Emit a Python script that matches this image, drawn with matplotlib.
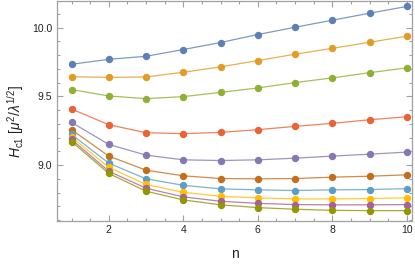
import matplotlib
matplotlib.use("Agg")
import matplotlib.pyplot as plt
from matplotlib.ticker import MultipleLocator

plt.rcParams["font.family"] = ["Liberation Sans", "DejaVu Sans"]
plt.rcParams["mathtext.fontset"] = "custom"
plt.rcParams["mathtext.rm"] = "Liberation Sans"
plt.rcParams["mathtext.it"] = "Liberation Sans:italic"
plt.rcParams["mathtext.bf"] = "Liberation Sans:bold"

n = [1, 2, 3, 4, 5, 6, 7, 8, 9, 10]
series = [
    [9.733, 9.769, 9.791, 9.840, 9.891, 9.949, 10.002, 10.053, 10.104, 10.153],
    [9.643, 9.638, 9.641, 9.675, 9.714, 9.760, 9.806, 9.849, 9.893, 9.937],
    [9.549, 9.503, 9.483, 9.498, 9.529, 9.561, 9.600, 9.634, 9.672, 9.707],
    [9.408, 9.294, 9.236, 9.229, 9.238, 9.258, 9.282, 9.304, 9.330, 9.352],
    [9.311, 9.151, 9.073, 9.039, 9.034, 9.039, 9.051, 9.066, 9.080, 9.095],
    [9.258, 9.066, 8.964, 8.923, 8.903, 8.901, 8.903, 8.913, 8.920, 8.930],
    [9.223, 9.015, 8.901, 8.854, 8.828, 8.821, 8.816, 8.821, 8.823, 8.830],
    [9.204, 8.985, 8.860, 8.803, 8.774, 8.763, 8.755, 8.755, 8.758, 8.763],
    [9.187, 8.956, 8.833, 8.770, 8.738, 8.723, 8.714, 8.712, 8.712, 8.714],
    [9.172, 8.940, 8.811, 8.748, 8.712, 8.692, 8.680, 8.672, 8.670, 8.670],
]
colors = ["#5E81B5", "#E19C24", "#8FB032", "#EB6235", "#8778B3",
          "#C56E1A", "#5D9EC7", "#FFBF00", "#A5609D", "#929600"]
xticks = [2, 4, 6, 8, 10]
yticks = [9.0, 9.5, 10.0]
ytick_labels = ["9.0", "9.5", "10.0"]

fig = plt.figure(figsize=(4.15, 2.67), dpi=100)
ax = fig.add_axes([0.1373, 0.174, 0.8555, 0.824])

for ys, c in zip(series, colors):
    ax.plot(n, ys, color=c, lw=0.9, alpha=0.8, zorder=2)
    ax.plot(n, ys, ls="none", marker="o", ms=4.3, color=c, mec=c, zorder=3)

ax.set_xlim(0.61, 10.14)
ax.set_ylim(8.598, 10.196)
ax.set_xticks(xticks)
ax.set_xticklabels([str(v) for v in xticks])
ax.set_yticks(yticks)
ax.set_yticklabels(ytick_labels)
ax.xaxis.set_minor_locator(MultipleLocator(0.5))
ax.yaxis.set_minor_locator(MultipleLocator(0.1))

frame_c = "#A0A0A0"
for s in ax.spines.values():
    s.set_color(frame_c)
    s.set_linewidth(0.9)
ax.tick_params(which="both", direction="in", top=True, right=True,
               color=frame_c, width=0.8, labelsize=7.5, labelcolor="#222222")
ax.tick_params(which="major", length=4, pad=3.5)
ax.tick_params(which="minor", length=2.3)

ax.set_xlabel("n", fontsize=10, color="#222222")
ax.xaxis.set_label_coords(0.5, -0.118)
ax.set_ylabel(r"$H_{\mathrm{c1}}\ [\mu^2/\lambda^{1/2}]$", fontsize=10,
              color="#222222")
ax.yaxis.set_label_coords(-0.087, 0.45)

fig.savefig("out.png", dpi=100)
